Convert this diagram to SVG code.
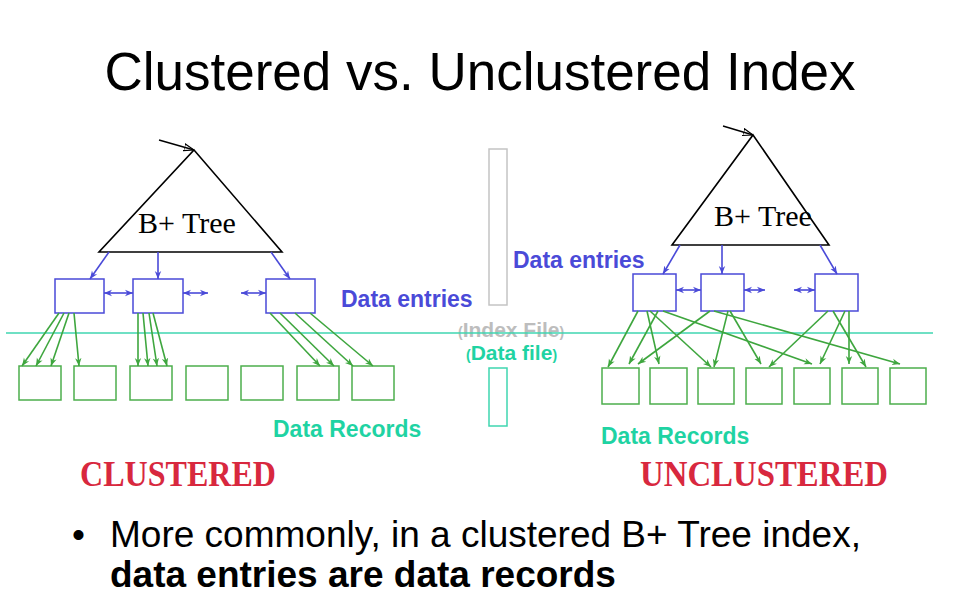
<svg xmlns="http://www.w3.org/2000/svg" width="956" height="596" viewBox="0 0 956 596">
<defs>
<style>
.tri{fill:none;stroke:#000;stroke-width:1.6;stroke-linejoin:miter}
.ie{fill:#fff;stroke:#4a4ad8;stroke-width:1.5}
.rec{fill:#fff;stroke:#4cae4c;stroke-width:1.5}
.bl{stroke:#4a4ad8;stroke-width:1.6;fill:none}
.gl{stroke:#3ea63e;stroke-width:1.6;fill:none}
.bt{font-family:"Liberation Serif","Times New Roman",serif;font-size:30px;fill:#000}
.de{font-family:"Liberation Sans",Arial,sans-serif;font-weight:bold;font-size:23px;fill:#4a4ad8}
.dr{font-family:"Liberation Sans",Arial,sans-serif;font-weight:bold;font-size:23px;fill:#1fd3a3}
.red{font-family:"Liberation Serif","Times New Roman",serif;font-weight:bold;font-size:35px;fill:#d8283e}
.body{font-family:"Liberation Sans",Arial,sans-serif;font-size:37px;fill:#000}
</style>
<marker id="ab" viewBox="0 0 10 10" refX="10" refY="5" markerWidth="8" markerHeight="8" markerUnits="userSpaceOnUse" orient="auto-start-reverse"><path d="M0,1 L10,5 L0,9 L3,5 z" fill="#4a4ad8"/></marker>
<marker id="ag" viewBox="0 0 10 10" refX="10" refY="5" markerWidth="8" markerHeight="8" markerUnits="userSpaceOnUse" orient="auto"><path d="M0,1 L10,5 L0,9 L3,5 z" fill="#3ea63e"/></marker>
<marker id="ak" viewBox="0 0 10 10" refX="10" refY="5" markerWidth="10" markerHeight="10" markerUnits="userSpaceOnUse" orient="auto"><path d="M0,1.5 L10,5 L0,8.5 z" fill="none" stroke="#000" stroke-width="1.2"/></marker>
</defs>
<rect width="956" height="596" fill="#fff"/>
<text id="title" x="480" y="90" text-anchor="middle" font-family="Liberation Sans,Arial,sans-serif" font-size="53" fill="#000">Clustered vs. Unclustered Index</text>

<g id="divider">
<rect x="489" y="149" width="18" height="156" fill="none" stroke="#c4c4c4" stroke-width="1.5"/>
<rect x="489" y="368" width="18" height="58" fill="none" stroke="#3fd6b0" stroke-width="1.5"/>
<text x="458" y="337" font-family="Liberation Sans,Arial,sans-serif" font-weight="bold" fill="#bdbdbd" font-size="21"><tspan font-size="14">(</tspan>Index File<tspan font-size="14">)</tspan></text>
<line x1="6" y1="333" x2="933" y2="333" stroke="#3fd6b0" stroke-width="1.6"/>
<text x="466" y="360" font-family="Liberation Sans,Arial,sans-serif" font-weight="bold" fill="#1fd3a3" font-size="21"><tspan font-size="14">(</tspan>Data file<tspan font-size="14">)</tspan></text>
</g>

<!-- LEFT: clustered -->
<g id="tree-left">
<path class="tri" d="M194,150 L282,252 L99,252 Z"/>
<text class="bt" x="138" y="233">B+ Tree</text>
</g>
<g id="entries-left">
<rect class="ie" x="55" y="279" width="49" height="34"/>
<rect class="ie" x="133" y="279" width="50" height="34"/>
<rect class="ie" x="266" y="279" width="49" height="34"/>
</g>
<g id="records-left">
<rect class="rec" x="19" y="366" width="42" height="34"/>
<rect class="rec" x="74" y="366" width="42" height="34"/>
<rect class="rec" x="130" y="366" width="42" height="34"/>
<rect class="rec" x="186" y="366" width="42" height="34"/>
<rect class="rec" x="241" y="366" width="42" height="34"/>
<rect class="rec" x="297" y="366" width="42" height="34"/>
<rect class="rec" x="352" y="366" width="42" height="34"/>
</g>
<g id="labels-left">
<text class="de" x="341" y="307">Data entries</text>
<text class="dr" x="273" y="437">Data Records</text>
<text class="red" x="80" y="486" textLength="196" lengthAdjust="spacingAndGlyphs">CLUSTERED</text>
</g>

<!-- RIGHT: unclustered -->
<g id="tree-right">
<path class="tri" d="M753,135 L829,245 L672,245 Z"/>
<text class="bt" x="714" y="226">B+ Tree</text>
</g>
<g id="entries-right">
<rect class="ie" x="633" y="274" width="43" height="37"/>
<rect class="ie" x="701" y="274" width="43" height="37"/>
<rect class="ie" x="815" y="274" width="43" height="37"/>
</g>
<g id="records-right">
<rect class="rec" x="602" y="368" width="37" height="36"/>
<rect class="rec" x="650" y="368" width="37" height="36"/>
<rect class="rec" x="698" y="368" width="36" height="36"/>
<rect class="rec" x="746" y="368" width="36" height="36"/>
<rect class="rec" x="794" y="368" width="36" height="36"/>
<rect class="rec" x="842" y="368" width="36" height="36"/>
<rect class="rec" x="890" y="368" width="36" height="36"/>
</g>
<g id="labels-right">
<text class="de" x="513" y="268">Data entries</text>
<text class="dr" x="601" y="444">Data Records</text>
<text class="red" x="640" y="486" textLength="248" lengthAdjust="spacingAndGlyphs">UNCLUSTERED</text>
</g>

<g id="connectors">
<line x1="159" y1="140" x2="194" y2="150" stroke="#000" stroke-width="1.4" marker-end="url(#ak)"/>
<line x1="723" y1="126" x2="753" y2="135" stroke="#000" stroke-width="1.4" marker-end="url(#ak)"/>
<line class="bl" x1="109" y1="252" x2="90" y2="279" marker-end="url(#ab)"/>
<line class="bl" x1="158" y1="252" x2="158" y2="279" marker-end="url(#ab)"/>
<line class="bl" x1="271" y1="252" x2="290" y2="279" marker-end="url(#ab)"/>
<line class="bl" x1="104" y1="293" x2="133" y2="293" marker-start="url(#ab)" marker-end="url(#ab)"/>
<line class="bl" x1="183" y1="293" x2="208" y2="293" marker-start="url(#ab)" marker-end="url(#ab)"/>
<line class="bl" x1="241" y1="293" x2="266" y2="293" marker-start="url(#ab)" marker-end="url(#ab)"/>
<line class="bl" x1="680" y1="245" x2="663" y2="274" marker-end="url(#ab)"/>
<line class="bl" x1="722" y1="245" x2="722" y2="274" marker-end="url(#ab)"/>
<line class="bl" x1="820" y1="245" x2="837" y2="274" marker-end="url(#ab)"/>
<line class="bl" x1="676" y1="290" x2="701" y2="290" marker-start="url(#ab)" marker-end="url(#ab)"/>
<line class="bl" x1="744" y1="290" x2="765" y2="290" marker-start="url(#ab)" marker-end="url(#ab)"/>
<line class="bl" x1="794" y1="290" x2="815" y2="290" marker-start="url(#ab)" marker-end="url(#ab)"/>
<line class="gl" x1="59" y1="313" x2="22" y2="366" marker-end="url(#ag)"/>
<line class="gl" x1="64" y1="313" x2="36" y2="366" marker-end="url(#ag)"/>
<line class="gl" x1="69" y1="313" x2="51" y2="366" marker-end="url(#ag)"/>
<line class="gl" x1="74" y1="313" x2="79" y2="366" marker-end="url(#ag)"/>
<line class="gl" x1="138" y1="313" x2="138" y2="366" marker-end="url(#ag)"/>
<line class="gl" x1="143" y1="313" x2="148" y2="366" marker-end="url(#ag)"/>
<line class="gl" x1="149" y1="313" x2="157" y2="366" marker-end="url(#ag)"/>
<line class="gl" x1="153" y1="313" x2="167" y2="366" marker-end="url(#ag)"/>
<line class="gl" x1="270" y1="313" x2="320" y2="366" marker-end="url(#ag)"/>
<line class="gl" x1="280" y1="313" x2="334" y2="366" marker-end="url(#ag)"/>
<line class="gl" x1="295" y1="313" x2="353" y2="366" marker-end="url(#ag)"/>
<line class="gl" x1="310" y1="313" x2="373" y2="366" marker-end="url(#ag)"/>
<line class="gl" x1="638" y1="311" x2="608" y2="367" marker-end="url(#ag)"/>
<line class="gl" x1="647" y1="311" x2="659" y2="364" marker-end="url(#ag)"/>
<line class="gl" x1="658" y1="311" x2="629" y2="364" marker-end="url(#ag)"/>
<line class="gl" x1="650" y1="311" x2="711" y2="367" marker-end="url(#ag)"/>
<line class="gl" x1="663" y1="311" x2="812" y2="364" marker-end="url(#ag)"/>
<line class="gl" x1="710" y1="311" x2="638" y2="364" marker-end="url(#ag)"/>
<line class="gl" x1="714" y1="311" x2="900" y2="364" marker-end="url(#ag)"/>
<line class="gl" x1="728" y1="311" x2="714" y2="367" marker-end="url(#ag)"/>
<line class="gl" x1="730" y1="311" x2="761" y2="364" marker-end="url(#ag)"/>
<line class="gl" x1="828" y1="311" x2="769" y2="367" marker-end="url(#ag)"/>
<line class="gl" x1="845" y1="311" x2="820" y2="364" marker-end="url(#ag)"/>
<line class="gl" x1="833" y1="311" x2="866" y2="367" marker-end="url(#ag)"/>
<line class="gl" x1="849" y1="311" x2="849" y2="364" marker-end="url(#ag)"/>
</g>

<g id="bullet">
<text class="body" x="72" y="547">•</text>
<text class="body" x="110" y="547">More commonly, in a clustered B+ Tree index,</text>
<text class="body" x="110" y="587" font-weight="bold">data entries are data records</text>
</g>
</svg>
